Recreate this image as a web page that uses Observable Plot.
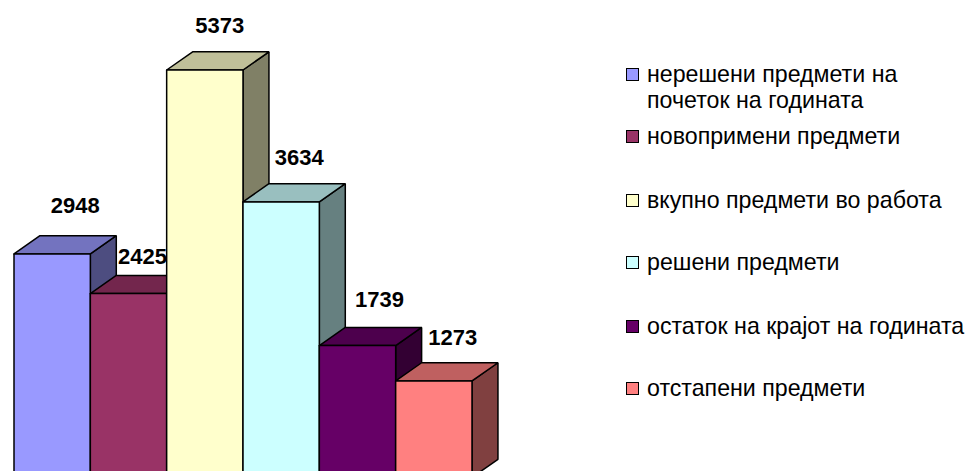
<!DOCTYPE html>
<html>
<head>
<meta charset="utf-8">
<script src="https://cdn.jsdelivr.net/npm/d3@7"></script>
<script src="https://cdn.jsdelivr.net/npm/@observablehq/plot@0.6"></script>
<style>
html, body { margin: 0; padding: 0; background: #fff; }
#wrap { position: relative; width: 971px; height: 471px; overflow: hidden; font-family: "Liberation Sans", Arial, sans-serif; }
#wrap svg { display: block; position: absolute; left: 0; top: 0; }
.item { position: absolute; left: 626px; display: flex; align-items: flex-start; color: #000; font-size: 23.2px; line-height: 26px; white-space: nowrap; }
.swatch { width: 11px; height: 11px; border: 1.5px solid #000; margin: 7px 8px 0 0; flex: none; }
</style>
</head>
<body>
<div id="wrap"></div>
<script>
const categories = [
  ["нерешени предмети на", "почеток на годината"],
  ["новопримени предмети"],
  ["вкупно предмети во работа"],
  ["решени предмети"],
  ["остаток на крајот на годината"],
  ["отстапени предмети"]
];
const values = [2948, 2425, 5373, 3634, 1739, 1273];
const colors = ["#9999FF", "#993366", "#FFFFCC", "#CCFFFF", "#660066", "#FF8080"];

// layout of the pseudo-3D depth, in data units
const depthX = 0.34;
const depthY = 240;
const shadeTop = 0.75;
const shadeSide = 0.5;
// label nudges relative to the bar's top-centre, in pixels
const labelNudge = [[23, -48], [14, -37], [15, -44], [18, -44], [22, -46], [19, -43]];
const legendTops = [61, 123, 187, 249, 313, 375];

const shade = (c, k) => { const r = d3.rgb(c); return d3.rgb(r.r * k, r.g * k, r.b * k).formatHex(); };

const faces = [];
values.forEach((v, i) => {
  const face = (name, fill, pts) => {
    [...pts, pts[0]].forEach(([x, y]) => faces.push({x, y, fill, z: `${i}-${name}`}));
  };
  const a = i, b = i + 1;
  face("side", shade(colors[i], shadeSide), [[b, 0], [b + depthX, depthY], [b + depthX, v + depthY], [b, v]]);
  face("top", shade(colors[i], shadeTop), [[a, v], [a + depthX, v + depthY], [b + depthX, v + depthY], [b, v]]);
  face("front", colors[i], [[a, 0], [a, v], [b, v], [b, 0]]);
});

const labels = values.map((v, i) => ({x: i + 0.5, y: v, text: String(v), nudge: labelNudge[i]}));

const chart = Plot.plot({
  width: 971,
  height: 471,
  margin: 0,
  x: {type: "linear", domain: [0, 6], range: [13.5, 471.5], axis: null},
  y: {type: "linear", domain: [0, 5373], range: [477, 69.5], axis: null},
  color: {type: "identity"},
  marks: [
    Plot.line(faces, {x: "x", y: "y", z: "z", fill: "fill", stroke: "#000", strokeWidth: 1.5, strokeLinejoin: "miter", curve: "linear"}),
    ...labels.map(d => Plot.text([d], {
      x: "x", y: "y", text: "text", dx: d.nudge[0], dy: d.nudge[1],
      fontSize: 22, fontWeight: "bold", fill: "#000", fontFamily: "Liberation Sans, Arial, sans-serif"
    }))
  ]
});

const wrap = document.getElementById("wrap");
wrap.appendChild(chart);
categories.forEach((lines, i) => {
  const item = document.createElement("div");
  item.className = "item";
  item.style.top = legendTops[i] + "px";
  const sw = document.createElement("div");
  sw.className = "swatch";
  sw.style.background = colors[i];
  const txt = document.createElement("div");
  txt.innerHTML = lines.join("<br>");
  item.append(sw, txt);
  wrap.appendChild(item);
});
</script>
</body>
</html>
